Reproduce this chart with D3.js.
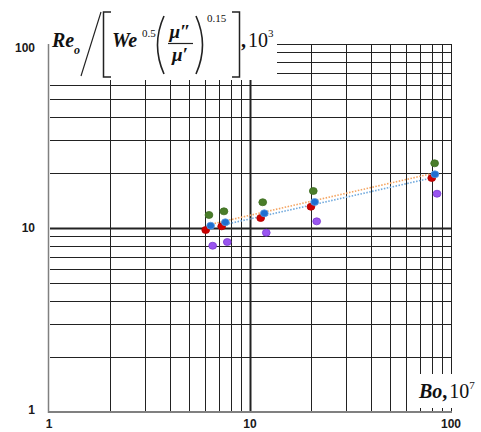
<!DOCTYPE html>
<html>
<head>
<meta charset="utf-8">
<script src="https://cdn.jsdelivr.net/npm/d3@7"></script>
<style>
  body { margin: 0; background: #fff; }
  svg { display: block; }
  .tick-label { font-family: "Liberation Sans", Arial, sans-serif; font-weight: bold; font-size: 12px; fill: #1a1a1a; }
  .tt { font-family: "Liberation Serif", "Times New Roman", serif; fill: #111; }
</style>
</head>
<body>
<div id="chart"></div>
<script>
'use strict'

// ---------- data ----------
const tickValues = [1, 10, 100]
const tickLabels = ['1', '10', '100']

const redBo = [6.02, 7.23, 11.3, 20.1, 80.2]
const redRe = [9.75, 10.21, 11.33, 13.05, 18.7]
const greenBo = [6.25, 7.42, 11.57, 20.65, 82.9]
const greenRe = [11.77, 12.32, 13.8, 15.89, 22.47]
const blueBo = [6.37, 7.54, 11.78, 20.98, 83.2]
const blueRe = [10.29, 10.74, 12.02, 13.85, 19.58]
const purpleBo = [6.52, 7.71, 12.05, 21.47, 85.2]
const purpleRe = [8.01, 8.39, 9.43, 10.87, 15.36]

// trend line end points (Bo, Re)
const orangeTrend = [[6.44, 10.5], [78.5, 19.64]]
const blueTrend = [[7.33, 10.38], [80.2, 18.71]]

// ---------- setup ----------
const W = 481, H = 432
const svg = d3.select('#chart').append('svg')
  .attr('width', W).attr('height', H)

const x = d3.scaleLog().domain([1, 100]).range([49, 451])
const y = d3.scaleLog().domain([1, 100]).range([412, 44])

const gridVals = x.ticks()   // 1..10, 20..100

// ---------- grid ----------
const grid = svg.append('g')

grid.selectAll('.vg')
  .data(gridVals.filter(d => d > 1))
  .join('line')
  .attr('class', 'vg')
  .attr('x1', d => Math.round(x(d)) + 0.5).attr('x2', d => Math.round(x(d)) + 0.5)
  .attr('y1', y(100)).attr('y2', y(1) - 1)
  .attr('stroke', '#222')
  .attr('stroke-width', d => d === 10 ? 2 : 1)

grid.selectAll('.hg')
  .data(gridVals.filter(d => d > 1))
  .join('line')
  .attr('class', 'hg')
  .attr('x1', x(1) + 1).attr('x2', x(100) + 0.5)
  .attr('y1', d => Math.round(y(d)) + 0.5).attr('y2', d => Math.round(y(d)) + 0.5)
  .attr('stroke', '#222')
  .attr('stroke-width', d => d === 10 ? 2 : 1)

// axes lines (grey)
svg.append('line')
  .attr('x1', x(1) - 0.5).attr('x2', x(1) - 0.5)
  .attr('y1', y(100)).attr('y2', y(1) + 1)
  .attr('stroke', '#808080').attr('stroke-width', 1.5)
svg.append('line')
  .attr('x1', x(1) - 1).attr('x2', x(100) + 1)
  .attr('y1', y(1)).attr('y2', y(1))
  .attr('stroke', '#808080').attr('stroke-width', 2)

// ---------- trend lines ----------
const line = d3.line().x(d => x(d[0])).y(d => y(d[1]))
svg.append('path').datum(orangeTrend)
  .attr('d', line).attr('fill', 'none')
  .attr('stroke', '#f4a460').attr('stroke-width', 1.6).attr('stroke-dasharray', '1.5,1.5')
svg.append('path').datum(blueTrend)
  .attr('d', line).attr('fill', 'none')
  .attr('stroke', '#6fa8dc').attr('stroke-width', 1.6).attr('stroke-dasharray', '1.5,1.5')

// ---------- points ----------
const series = [
  {bo: greenBo, re: greenRe, color: '#4a7d2a', edge: '#3f6f22'},
  {bo: redBo, re: redRe, color: '#cc0000', edge: '#b00000'},
  {bo: blueBo, re: blueRe, color: '#1f6fd1', edge: '#5a9ae0'},
  {bo: purpleBo, re: purpleRe, color: '#9a55f0', edge: '#7a3ad0'}
]

series.forEach(s => {
  svg.append('g').selectAll('ellipse')
    .data(s.bo.map((b, i) => [b, s.re[i]]))
    .join('ellipse')
    .attr('cx', d => x(d[0])).attr('cy', d => y(d[1]))
    .attr('rx', 3.9).attr('ry', 3.5)
    .attr('fill', s.color)
    .attr('stroke', s.edge).attr('stroke-width', 0.8)
})

// ---------- tick labels ----------
svg.append('g').selectAll('text')
  .data(tickValues)
  .join('text')
  .attr('class', 'tick-label')
  .attr('x', 35).attr('y', d => Math.min(Math.max(y(d), 48), 410) + 4)
  .attr('text-anchor', 'end')
  .text((d, i) => tickLabels[i])

svg.append('g').selectAll('text')
  .data(tickValues)
  .join('text')
  .attr('class', 'tick-label')
  .attr('x', d => x(d)).attr('y', 428)
  .attr('text-anchor', 'middle')
  .text((d, i) => tickLabels[i])

// ---------- y title (formula) ----------
svg.append('rect').attr('x', 50).attr('y', 0).attr('width', 227).attr('height', 80).attr('fill', '#fff')

const t = svg.append('g')
const base = 47
t.append('text').attr('class', 'tt').attr('x', 52).attr('y', base)
  .attr('font-size', 20).attr('font-weight', 'bold').attr('font-style', 'italic').text('Re')
t.append('text').attr('class', 'tt').attr('x', 74).attr('y', base + 7)
  .attr('font-size', 12).attr('font-weight', 'bold').attr('font-style', 'italic').text('o')
t.append('path').attr('d', 'M81,76 L101,12').attr('stroke', '#222').attr('stroke-width', 1.2).attr('fill', 'none')
t.append('path').attr('d', 'M111,12 H103.5 V77 H111').attr('stroke', '#222').attr('stroke-width', 1.5).attr('fill', 'none')
t.append('text').attr('class', 'tt').attr('x', 112).attr('y', base)
  .attr('font-size', 20).attr('font-weight', 'bold').attr('font-style', 'italic').text('We')
t.append('text').attr('class', 'tt').attr('x', 142).attr('y', base - 10)
  .attr('font-size', 11).text('0.5')
t.append('path').attr('d', 'M164,16 Q151,45 164,74').attr('stroke', '#222').attr('stroke-width', 1.6).attr('fill', 'none')
t.append('text').attr('class', 'tt').attr('x', 180).attr('y', 38).attr('text-anchor', 'middle')
  .attr('font-size', 19).attr('font-weight', 'bold').attr('font-style', 'italic').text('\u03bc\u2033')
t.append('line').attr('x1', 168).attr('x2', 193).attr('y1', 43.5).attr('y2', 43.5).attr('stroke', '#222').attr('stroke-width', 1.2)
t.append('text').attr('class', 'tt').attr('x', 180).attr('y', 61).attr('text-anchor', 'middle')
  .attr('font-size', 19).attr('font-weight', 'bold').attr('font-style', 'italic').text('\u03bc\u2032')
t.append('path').attr('d', 'M196,16 Q209,45 196,74').attr('stroke', '#222').attr('stroke-width', 1.6).attr('fill', 'none')
t.append('text').attr('class', 'tt').attr('x', 207).attr('y', 22)
  .attr('font-size', 11).text('0.15')
t.append('path').attr('d', 'M232,12 H239.5 V77 H232').attr('stroke', '#222').attr('stroke-width', 1.5).attr('fill', 'none')
t.append('text').attr('class', 'tt').attr('x', 241).attr('y', base)
  .attr('font-size', 20).attr('font-weight', 'bold').text(',')
t.append('text').attr('class', 'tt').attr('x', 248).attr('y', base)
  .attr('font-size', 20).text('10')
t.append('text').attr('class', 'tt').attr('x', 268).attr('y', base - 10)
  .attr('font-size', 11).text('3')

// ---------- x title ----------
svg.append('rect').attr('x', 415).attr('y', 374).attr('width', 66).attr('height', 34).attr('fill', '#fff')
const bx = svg.append('text').attr('class', 'tt').attr('x', 419).attr('y', 398).attr('font-size', 20)
bx.append('tspan').attr('font-weight', 'bold').attr('font-style', 'italic').text('Bo')
bx.append('tspan').attr('font-weight', 'bold').text(',')
bx.append('tspan').attr('dx', 2).text('10')
bx.append('tspan').attr('font-size', 11).attr('dy', -9).text('7')
</script>
</body>
</html>
